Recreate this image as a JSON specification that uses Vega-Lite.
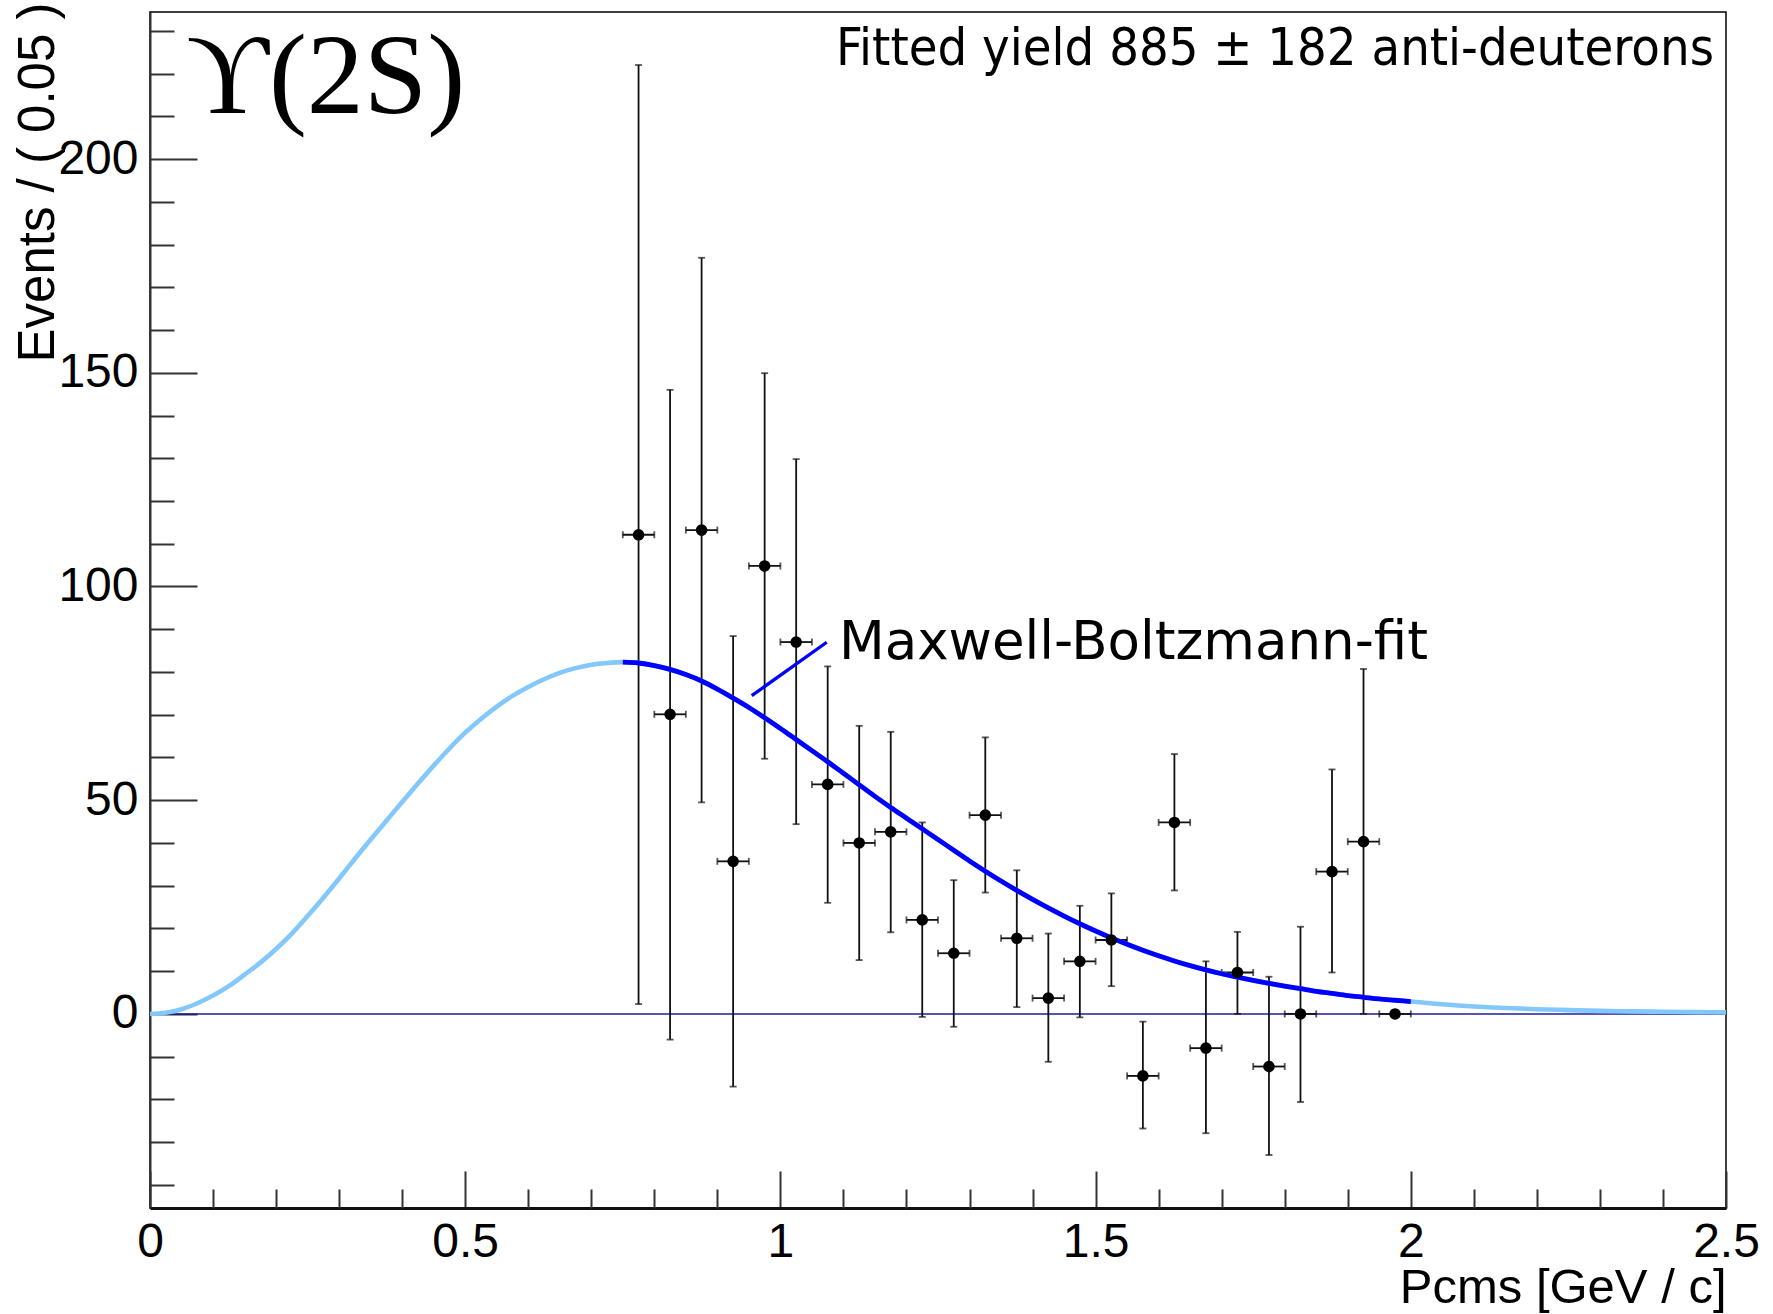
{
  "$schema": "https://vega.github.io/schema/vega-lite/v6.json",
  "autosize": {"type": "none"},
  "padding": {"left": 150, "top": 12, "right": 47, "bottom": 106},
  "width": 1576,
  "height": 1196,
  "background": "white",
  "config": {
    "view": {"stroke": "black", "strokeWidth": 1.5},
    "axis": {"grid": false}
  },
  "datasets": {
    "points": [
      {"p": 0.775, "p_lo": 0.75, "p_hi": 0.8, "n": 112.1, "lo": 2.3, "hi": 222.0},
      {"p": 0.825, "p_lo": 0.8, "p_hi": 0.85, "n": 70.1, "lo": -6.0, "hi": 146.0},
      {"p": 0.875, "p_lo": 0.85, "p_hi": 0.9, "n": 113.2, "lo": 49.5, "hi": 176.9},
      {"p": 0.925, "p_lo": 0.9, "p_hi": 0.95, "n": 35.7, "lo": -17.0, "hi": 88.4},
      {"p": 0.975, "p_lo": 0.95, "p_hi": 1.0, "n": 104.8, "lo": 59.7, "hi": 149.9},
      {"p": 1.025, "p_lo": 1.0, "p_hi": 1.05, "n": 87.0, "lo": 44.4, "hi": 129.8},
      {"p": 1.075, "p_lo": 1.05, "p_hi": 1.1, "n": 53.7, "lo": 26.0, "hi": 81.3},
      {"p": 1.125, "p_lo": 1.1, "p_hi": 1.15, "n": 40.0, "lo": 12.6, "hi": 67.4},
      {"p": 1.175, "p_lo": 1.15, "p_hi": 1.2, "n": 42.6, "lo": 19.1, "hi": 66.0},
      {"p": 1.225, "p_lo": 1.2, "p_hi": 1.25, "n": 22.0, "lo": -0.7, "hi": 44.8},
      {"p": 1.275, "p_lo": 1.25, "p_hi": 1.3, "n": 14.2, "lo": -3.0, "hi": 31.3},
      {"p": 1.325, "p_lo": 1.3, "p_hi": 1.35, "n": 46.5, "lo": 28.4, "hi": 64.7},
      {"p": 1.375, "p_lo": 1.35, "p_hi": 1.4, "n": 17.7, "lo": 1.6, "hi": 33.6},
      {"p": 1.425, "p_lo": 1.4, "p_hi": 1.45, "n": 3.7, "lo": -11.2, "hi": 18.8},
      {"p": 1.475, "p_lo": 1.45, "p_hi": 1.5, "n": 12.3, "lo": -0.8, "hi": 25.3},
      {"p": 1.525, "p_lo": 1.5, "p_hi": 1.55, "n": 17.3, "lo": 6.5, "hi": 28.2},
      {"p": 1.575, "p_lo": 1.55, "p_hi": 1.6, "n": -14.5, "lo": -26.8, "hi": -1.8},
      {"p": 1.625, "p_lo": 1.6, "p_hi": 1.65, "n": 44.8, "lo": 28.9, "hi": 60.8},
      {"p": 1.675, "p_lo": 1.65, "p_hi": 1.7, "n": -8.0, "lo": -27.9, "hi": 12.3},
      {"p": 1.725, "p_lo": 1.7, "p_hi": 1.75, "n": 9.7, "lo": 0.0, "hi": 19.2},
      {"p": 1.775, "p_lo": 1.75, "p_hi": 1.8, "n": -12.3, "lo": -33.0, "hi": 8.7},
      {"p": 1.825, "p_lo": 1.8, "p_hi": 1.85, "n": 0.0, "lo": -20.6, "hi": 20.4},
      {"p": 1.875, "p_lo": 1.85, "p_hi": 1.9, "n": 33.3, "lo": 9.7, "hi": 57.2},
      {"p": 1.925, "p_lo": 1.9, "p_hi": 1.95, "n": 40.3, "lo": 0.0, "hi": 80.7},
      {"p": 1.975, "p_lo": 1.95, "p_hi": 2.0, "n": 0.0, "lo": 0.0, "hi": 0.0}
    ],
    "curve": [
      {"p": 0.0, "f": 0.0}, {"p": 0.025, "f": 0.3}, {"p": 0.05, "f": 1.1}, {"p": 0.075, "f": 2.5},
      {"p": 0.1, "f": 4.3}, {"p": 0.125, "f": 6.5}, {"p": 0.15, "f": 9.2}, {"p": 0.175, "f": 12.0},
      {"p": 0.2, "f": 15.2}, {"p": 0.225, "f": 18.8}, {"p": 0.25, "f": 22.9}, {"p": 0.275, "f": 27.2},
      {"p": 0.3, "f": 31.7}, {"p": 0.325, "f": 36.3}, {"p": 0.35, "f": 40.8}, {"p": 0.375, "f": 45.2},
      {"p": 0.4, "f": 49.6}, {"p": 0.425, "f": 53.9}, {"p": 0.45, "f": 58.1}, {"p": 0.475, "f": 62.1},
      {"p": 0.5, "f": 65.8}, {"p": 0.525, "f": 69.0}, {"p": 0.55, "f": 71.9}, {"p": 0.575, "f": 74.4},
      {"p": 0.6, "f": 76.5}, {"p": 0.625, "f": 78.3}, {"p": 0.65, "f": 79.8}, {"p": 0.675, "f": 80.9},
      {"p": 0.7, "f": 81.7}, {"p": 0.725, "f": 82.1}, {"p": 0.75, "f": 82.3}, {"p": 0.775, "f": 82.1},
      {"p": 0.8, "f": 81.5}, {"p": 0.825, "f": 80.6}, {"p": 0.85, "f": 79.4}, {"p": 0.875, "f": 77.9},
      {"p": 0.9, "f": 76.0}, {"p": 0.925, "f": 73.9}, {"p": 0.95, "f": 71.7}, {"p": 0.975, "f": 69.3},
      {"p": 1.0, "f": 66.8}, {"p": 1.025, "f": 64.2}, {"p": 1.05, "f": 61.6}, {"p": 1.075, "f": 59.0},
      {"p": 1.1, "f": 56.3}, {"p": 1.125, "f": 53.6}, {"p": 1.15, "f": 50.9}, {"p": 1.175, "f": 48.3},
      {"p": 1.2, "f": 45.8}, {"p": 1.225, "f": 43.3}, {"p": 1.25, "f": 40.8}, {"p": 1.275, "f": 38.3},
      {"p": 1.3, "f": 35.8}, {"p": 1.325, "f": 33.4}, {"p": 1.35, "f": 31.1}, {"p": 1.375, "f": 28.9},
      {"p": 1.4, "f": 26.8}, {"p": 1.425, "f": 24.8}, {"p": 1.45, "f": 22.9}, {"p": 1.475, "f": 21.1},
      {"p": 1.5, "f": 19.4}, {"p": 1.525, "f": 17.8}, {"p": 1.55, "f": 16.3}, {"p": 1.575, "f": 14.9},
      {"p": 1.6, "f": 13.6}, {"p": 1.625, "f": 12.4}, {"p": 1.65, "f": 11.3}, {"p": 1.675, "f": 10.3},
      {"p": 1.7, "f": 9.4}, {"p": 1.725, "f": 8.6}, {"p": 1.75, "f": 7.85}, {"p": 1.775, "f": 7.15},
      {"p": 1.8, "f": 6.5}, {"p": 1.825, "f": 5.9}, {"p": 1.85, "f": 5.3}, {"p": 1.875, "f": 4.8},
      {"p": 1.9, "f": 4.3}, {"p": 1.925, "f": 3.9}, {"p": 1.95, "f": 3.5}, {"p": 1.975, "f": 3.2},
      {"p": 2.0, "f": 2.9}, {"p": 2.05, "f": 2.25}, {"p": 2.1, "f": 1.75}, {"p": 2.15, "f": 1.4},
      {"p": 2.2, "f": 1.1}, {"p": 2.25, "f": 0.9}, {"p": 2.3, "f": 0.72}, {"p": 2.35, "f": 0.6},
      {"p": 2.4, "f": 0.5}, {"p": 2.45, "f": 0.42}, {"p": 2.5, "f": 0.36}
    ]
  },
  "layer": [
    {
      "data": {"values": [{"v": 0}]},
      "mark": {"type": "rule", "color": "#1c1ca0", "strokeWidth": 1.6},
      "encoding": {
        "y": {"field": "v", "type": "quantitative",
          "scale": {"domain": [-45.4, 234.4], "nice": false, "zero": false},
          "axis": {
            "orient": "left",
            "values": [0, 50, 100, 150, 200],
            "format": "d",
            "title": "Events / ( 0.05 )",
            "titleFont": "Liberation Sans", "titleFontSize": 51, "titleFontWeight": "normal", "titleColor": "black",
            "titleAngle": 270, "titleAlign": "right", "titleBaseline": "alphabetic",
            "titleX": -97, "titleY": -10,
            "labelFont": "Liberation Sans", "labelFontSize": 48, "labelColor": "black",
            "labelPadding": 59,
            "tickSize": -47, "tickWidth": 2, "tickColor": "#333333",
            "domainColor": "#333333", "domainWidth": 2
          }
        }
      }
    },
    {
      "data": {"name": "points"},
      "mark": {"type": "rule", "color": "#111111", "strokeWidth": 1.8},
      "encoding": {
        "x": {"field": "p", "type": "quantitative",
          "scale": {"domain": [0, 2.5], "nice": false, "zero": false},
          "axis": {
            "orient": "bottom",
            "values": [0, 0.5, 1, 1.5, 2, 2.5],
            "format": "~g",
            "title": "Pcms [GeV / c]",
            "titleFont": "Liberation Sans", "titleFontSize": 49, "titleFontWeight": "normal", "titleColor": "black",
            "titleAnchor": "end", "titleAlign": "right", "titleBaseline": "alphabetic",
            "titleX": 1576, "titleY": 94,
            "labelFont": "Liberation Sans", "labelFontSize": 48, "labelColor": "black",
            "labelFlush": false, "labelPadding": 47,
            "tickSize": -37, "tickWidth": 2, "tickColor": "#333333",
            "domainColor": "#111111", "domainWidth": 3
          }
        },
        "y": {"field": "lo", "type": "quantitative", "axis": null},
        "y2": {"field": "hi"}
      }
    },
    {
      "data": {"name": "points"},
      "mark": {"type": "rule", "color": "#111111", "strokeWidth": 1.8},
      "encoding": {
        "x": {"field": "p_lo", "type": "quantitative", "axis": null},
        "x2": {"field": "p_hi"},
        "y": {"field": "n", "type": "quantitative", "axis": null}
      }
    },
    {
      "data": {"name": "points"},
      "mark": {"type": "tick", "orient": "horizontal", "color": "#111111", "size": 7, "thickness": 1.8},
      "encoding": {
        "x": {"field": "p", "type": "quantitative", "axis": null},
        "y": {"field": "hi", "type": "quantitative", "axis": null}
      }
    },
    {
      "data": {"name": "points"},
      "mark": {"type": "tick", "orient": "horizontal", "color": "#111111", "size": 7, "thickness": 1.8},
      "encoding": {
        "x": {"field": "p", "type": "quantitative", "axis": null},
        "y": {"field": "lo", "type": "quantitative", "axis": null}
      }
    },
    {
      "data": {"name": "points"},
      "mark": {"type": "tick", "orient": "vertical", "color": "#111111", "size": 7, "thickness": 1.8},
      "encoding": {
        "x": {"field": "p_lo", "type": "quantitative", "axis": null},
        "y": {"field": "n", "type": "quantitative", "axis": null}
      }
    },
    {
      "data": {"name": "points"},
      "mark": {"type": "tick", "orient": "vertical", "color": "#111111", "size": 7, "thickness": 1.8},
      "encoding": {
        "x": {"field": "p_hi", "type": "quantitative", "axis": null},
        "y": {"field": "n", "type": "quantitative", "axis": null}
      }
    },
    {
      "data": {"name": "curve"},
      "mark": {"type": "line", "color": "#82c8fc", "strokeWidth": 4.6, "interpolate": "monotone"},
      "encoding": {
        "x": {"field": "p", "type": "quantitative", "axis": null},
        "y": {"field": "f", "type": "quantitative", "axis": null}
      }
    },
    {
      "data": {"name": "curve"},
      "transform": [{"filter": {"field": "p", "range": [0.75, 2.0]}}],
      "mark": {"type": "line", "color": "#0000ff", "strokeWidth": 4.8, "interpolate": "monotone"},
      "encoding": {
        "x": {"field": "p", "type": "quantitative", "axis": null},
        "y": {"field": "f", "type": "quantitative", "axis": null}
      }
    },
    {
      "data": {"name": "points"},
      "mark": {"type": "circle", "color": "black", "opacity": 1, "size": 135},
      "encoding": {
        "x": {"field": "p", "type": "quantitative", "axis": null},
        "y": {"field": "n", "type": "quantitative", "axis": null}
      }
    },
    {
      "data": {"values": [{"v": 0.1}, {"v": 0.2}, {"v": 0.3}, {"v": 0.4}, {"v": 0.6}, {"v": 0.7}, {"v": 0.8}, {"v": 0.9}, {"v": 1.1}, {"v": 1.2}, {"v": 1.3}, {"v": 1.4}, {"v": 1.6}, {"v": 1.7}, {"v": 1.8}, {"v": 1.9}, {"v": 2.1}, {"v": 2.2}, {"v": 2.3}, {"v": 2.4}]},
      "mark": {"type": "point", "opacity": 0},
      "encoding": {
        "x": {"field": "v", "type": "quantitative",
          "axis": {
            "values": [0.1, 0.2, 0.3, 0.4, 0.6, 0.7, 0.8, 0.9, 1.1, 1.2, 1.3, 1.4, 1.6, 1.7, 1.8, 1.9, 2.1, 2.2, 2.3, 2.4],
            "orient": "bottom", "labels": false, "domain": false, "title": null,
            "tickSize": -19, "tickWidth": 2, "tickColor": "#333333"
          }
        },
        "y": {"datum": 0, "type": "quantitative", "axis": null}
      }
    },
    {
      "data": {"values": [{"v": -40}, {"v": -30}, {"v": -20}, {"v": -10}, {"v": 10}, {"v": 20}, {"v": 30}, {"v": 40}, {"v": 60}, {"v": 70}, {"v": 80}, {"v": 90}, {"v": 110}, {"v": 120}, {"v": 130}, {"v": 140}, {"v": 160}, {"v": 170}, {"v": 180}, {"v": 190}, {"v": 210}, {"v": 220}, {"v": 230}]},
      "mark": {"type": "point", "opacity": 0},
      "encoding": {
        "y": {"field": "v", "type": "quantitative",
          "axis": {
            "values": [-40, -30, -20, -10, 10, 20, 30, 40, 60, 70, 80, 90, 110, 120, 130, 140, 160, 170, 180, 190, 210, 220, 230],
            "orient": "left", "labels": false, "domain": false, "title": null,
            "tickSize": -24, "tickWidth": 2, "tickColor": "#333333"
          }
        },
        "x": {"datum": 0, "type": "quantitative", "axis": null}
      }
    },
    {
      "data": {"values": [{}]},
      "mark": {"type": "rule", "color": "#0000ff", "strokeWidth": 3.3},
      "encoding": {
        "x": {"datum": 0.9545, "type": "quantitative", "axis": null},
        "y": {"datum": 74.45, "type": "quantitative", "axis": null},
        "x2": {"datum": 1.0735},
        "y2": {"datum": 86.95}
      }
    },
    {
      "data": {"values": [{"label": "Maxwell-Boltzmann-fit"}]},
      "mark": {"type": "text", "font": "DejaVu Sans", "fontSize": 53, "align": "left", "baseline": "alphabetic", "color": "black"},
      "encoding": {
        "x": {"datum": 1.093, "type": "quantitative", "axis": null},
        "y": {"datum": 83.0, "type": "quantitative", "axis": null},
        "text": {"field": "label"}
      }
    },
    {
      "data": {"values": [{"label": "Fitted yield 885 ± 182 anti-deuterons"}]},
      "mark": {"type": "text", "font": "DejaVu Sans Condensed", "fontSize": 52, "align": "right", "baseline": "alphabetic", "color": "black"},
      "encoding": {
        "x": {"datum": 2.481, "type": "quantitative", "axis": null},
        "y": {"datum": 222.0, "type": "quantitative", "axis": null},
        "text": {"field": "label"}
      }
    },
    {
      "data": {"values": [{"label": "ϒ(2S)"}]},
      "mark": {"type": "text", "font": "Liberation Serif, DejaVu Serif", "fontSize": 114, "align": "left", "baseline": "alphabetic", "color": "black"},
      "encoding": {
        "x": {"datum": 0.058, "type": "quantitative", "axis": null},
        "y": {"datum": 210.8, "type": "quantitative", "axis": null},
        "text": {"field": "label"}
      }
    }
  ],
  "resolve": {"axis": {"x": "independent", "y": "independent"}}
}
